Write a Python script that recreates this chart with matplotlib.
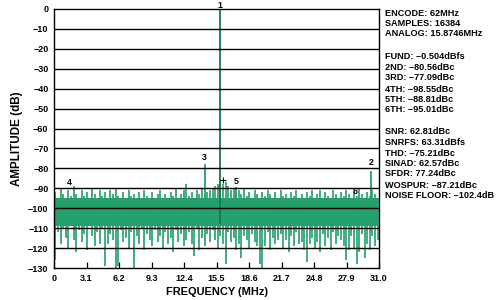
import numpy as np
import matplotlib
matplotlib.use("Agg")
import matplotlib.pyplot as plt

plt.rcParams['font.family'] = ['Liberation Sans', 'DejaVu Sans']

# ---------------- data ----------------
freq_ticks = [0, 3.1, 6.2, 9.3, 12.4, 15.5, 18.6, 21.7, 24.8, 27.9, 31.0]
tick_labels = ["0", "3.1", "6.2", "9.3", "12.4", "15.5", "18.6", "21.7", "24.8", "27.9", "31.0"]

# harmonics: label, frequency (MHz), level (dBFS)
harm_labels = ["1", "2", "3", "4", "5", "6"]
harm_freq = [15.87, 30.25, 14.38, 1.50, 17.37, 28.76]
harm_level = [-0.5, -81.1, -77.6, -99.1, -89.3, -95.5]

wospur_freq = 16.1
wospur_level = -86.0

# noise floor, read column by column (0.25 MHz bins)
noise_freq = np.arange(0.125, 31.0, 0.25)
noise_peak = [
    -92, -95, -90, -93, -96, -91, -94, -89, -93, -95,
    -91, -94, -92, -96, -90, -93, -95, -91, -94, -92,
    -95, -91, -93, -90, -94, -96, -92, -95, -91, -94,
    -93, -96, -92, -95, -91, -94, -97, -92, -95, -93,
    -91, -95, -93, -96, -92, -94, -90, -95, -93, -91,
    -88, -94, -92, -95, -91, -93, -90, -94, -92, -91,
    -90, -89, -88, -87, -88, -87, -89, -91, -90, -92,
    -91, -93, -90, -94, -92, -95, -91, -93, -96, -92,
    -94, -91, -93, -95, -92, -96, -91, -94, -93, -95,
    -92, -94, -91, -95, -93, -96, -92, -94, -91, -95,
    -93, -91, -95, -92, -94, -96, -91, -93, -95, -92,
    -94, -91, -93, -95, -92, -94, -90, -93, -95, -92,
    -94, -91, -93, -95,
]
noise_trough = [
    -126, -112, -118, -110, -115, -120, -109, -116, -122, -111,
    -117, -113, -121, -109, -114, -119, -112, -118, -110, -129,
    -118, -113, -116, -130, -129, -111, -117, -115, -120, -112,
    -130, -114, -118, -110, -121, -113, -116, -119, -111, -117,
    -114, -120, -112, -118, -115, -122, -111, -117, -113, -119,
    -116, -112, -118, -124, -110, -121, -115, -119, -113, -117,
    -111, -116, -120, -114, -118, -128, -112, -117, -115, -121,
    -118, -125, -114, -116, -120, -113, -117, -119, -128, -130,
    -119, -112, -121, -115, -118, -116, -113, -120, -116, -122,
    -114, -119, -112, -118, -117, -121, -127, -118, -115, -120,
    -117, -122, -113, -119, -115, -121, -112, -118, -114, -116,
    -119, -126, -121, -114, -120, -128, -122, -113, -125, -118,
    -121, -114, -119, -116,
]

text_lines = [
    ("ENCODE: 62MHz", 13), ("SAMPLES: 16384", 24), ("ANALOG: 15.8746MHz", 34),
    ("FUND: –0.504dBfs", 57), ("2ND: –80.56dBc", 68), ("3RD: –77.09dBc", 78),
    ("4TH: –98.55dBc", 89), ("5TH: –88.81dBc", 99), ("6TH: –95.01dBc", 110),
    ("SNR: 62.81dBc", 131), ("SNRFS: 63.31dBfs", 142), ("THD: –75.21dBc", 153),
    ("SINAD: 62.57dBc", 164), ("SFDR: 77.24dBc", 174), ("WOSPUR: –87.21dBc", 185),
    ("NOISE FLOOR: –102.4dB", 196),
]

# ---------------- plot ----------------
W, H = 500, 300
fig = plt.figure(figsize=(5, 3), dpi=100)
ax = fig.add_axes([54 / W, 1 - 268 / H, (379 - 54) / W, (268 - 9) / H])

green = '#23a06c'
dark_green = '#157a4c'

ax.fill_between(noise_freq, -109, -95, color=green, lw=0, zorder=2)
ax.vlines(noise_freq, noise_trough, noise_peak, color=green, lw=1.2, zorder=2)

for lab, f, lv in zip(harm_labels, harm_freq, harm_level):
    if lv > -90:
        ax.vlines(f, -108, lv, color=dark_green if lab == "1" else green,
                  lw=1.3, zorder=3)

label_offsets = {"1": 0.3, "2": 2.5, "3": 1.5, "4": 14, "5": 1, "6": 2}
for lab, f, lv in zip(harm_labels, harm_freq, harm_level):
    ax.annotate(lab, (f, lv), xytext=(0, label_offsets[lab]),
                textcoords='offset points', ha='center', va='bottom',
                fontsize=6.3, fontweight='bold', annotation_clip=False, zorder=5)

ax.plot([wospur_freq], [wospur_level], marker='+', color='black', ms=4, mew=0.8, zorder=5)

ax.set_xlim(0, 31)
ax.set_ylim(-130, 0)
ax.set_yticks(np.arange(0, -131, -10))
ax.set_yticklabels(["0"] + ["\u2212%d" % v for v in range(10, 131, 10)])
ax.set_xticks(freq_ticks)
ax.set_xticklabels(tick_labels)
for yv in range(-10, -130, -10):
    ax.axhline(yv, color='black', lw=1.0, zorder=4)

ax.tick_params(axis='x', direction='in', length=4, width=0.9, pad=4, labelsize=6.5)
ax.tick_params(axis='y', length=0, pad=4, labelsize=6.5)
for t in ax.get_xticklabels() + ax.get_yticklabels():
    t.set_fontweight('bold')
for s in ax.spines.values():
    s.set_linewidth(1.0)
    s.set_zorder(6)

ax.set_xlabel("FREQUENCY (MHz)", fontsize=7.9, fontweight='bold', labelpad=3)
ax.set_ylabel("AMPLITUDE (dB)", fontsize=8.4, fontweight='bold', labelpad=4)

for txt, ypix in text_lines:
    fig.text(385 / W, 1 - ypix / H, txt, fontsize=6.6, fontweight='bold',
             ha='left', va='center')

fig.savefig("out.png", dpi=100)
